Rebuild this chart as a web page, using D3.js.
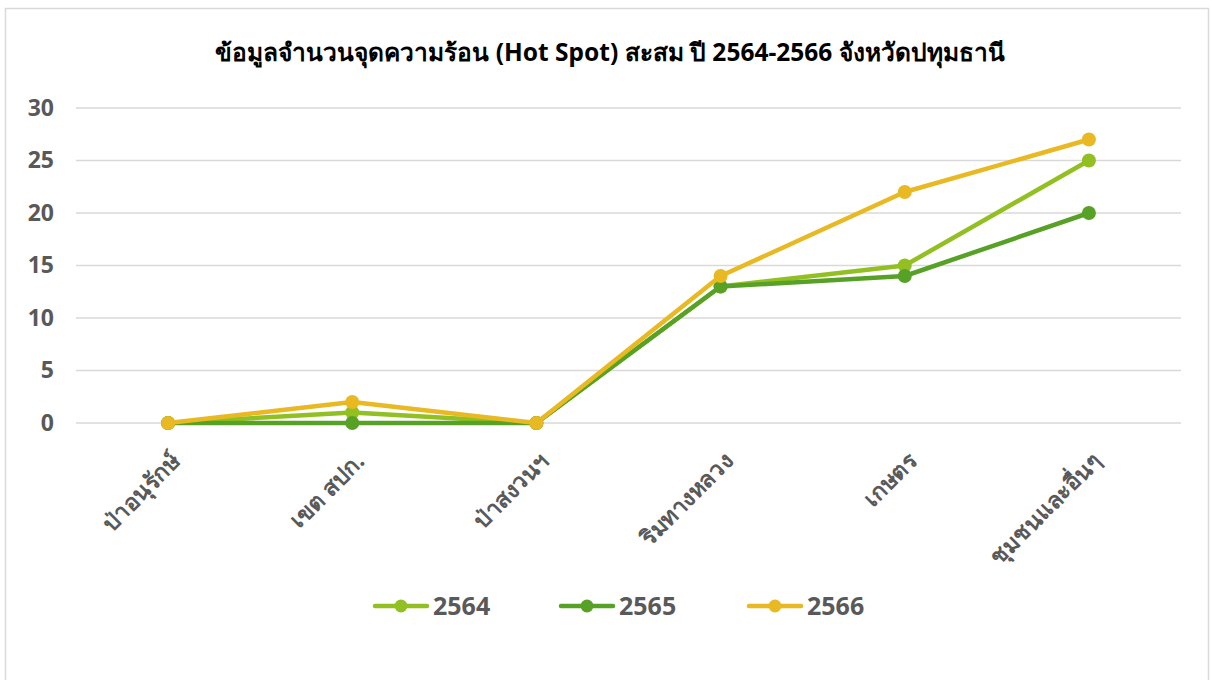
<!DOCTYPE html>
<html>
<head>
<meta charset="utf-8">
<script src="https://cdn.jsdelivr.net/npm/d3@7"></script>
<style>
  body { margin: 0; background: #fff; }
  text { font-family: "Tahoma", "Noto Sans", "DejaVu Sans", sans-serif; }
</style>
</head>
<body>
<div id="chart"></div>
<script>
// Chart data
var categories = ["ป่าอนุรักษ์", "เขต สปก.", "ป่าสงวนฯ", "ริมทางหลวง", "เกษตร", "ชุมชนและอื่นๆ"];
var years = ["2564", "2565", "2566"];
var values2564 = [0, 1, 0, 13, 15, 25];
var values2565 = [0, 0, 0, 13, 14, 20];
var values2566 = [0, 2, 0, 14, 22, 27];
var yTicks = [0, 5, 10, 15, 20, 25, 30];
var colors = ["#92c023", "#57a226", "#e8b923"];
var title = "ข้อมูลจำนวนจุดความร้อน (Hot Spot) สะสม ปี 2564-2566 จังหวัดปทุมธานี";

var series = [values2564, values2565, values2566];

var width = 1212, height = 680;
var margin = { top: 108, right: 31, bottom: 257, left: 76 };
var plotW = width - margin.left - margin.right,
    plotH = height - margin.top - margin.bottom;

var svg = d3.select("#chart").append("svg")
    .attr("width", width)
    .attr("height", height);

// outer frame
svg.append("rect")
    .attr("x", 5.5).attr("y", 8.5)
    .attr("width", 1203).attr("height", 690)
    .attr("fill", "none")
    .attr("stroke", "#d9d9d9")
    .attr("stroke-width", 1.5);

svg.append("text")
    .attr("x", 610).attr("y", 61)
    .attr("text-anchor", "middle")
    .attr("font-size", 24.5)
    .attr("font-weight", "bold")
    .attr("fill", "#000")
    .text(title);

var xScale = d3.scaleBand()
    .domain(categories)
    .range([0, plotW]);

var yScale = d3.scaleLinear()
    .domain([0, 30])
    .range([plotH, 0]);

var g = svg.append("g")
    .attr("transform", "translate(" + margin.left + "," + margin.top + ")");

// gridlines
g.append("g")
    .selectAll("line")
    .data(yTicks)
    .enter().append("line")
    .attr("x1", 0).attr("x2", plotW)
    .attr("y1", function(d) { return yScale(d); })
    .attr("y2", function(d) { return yScale(d); })
    .attr("stroke", "#d9d9d9")
    .attr("stroke-width", 1.5);

// y axis
var yAxis = d3.axisLeft(yScale).tickValues(yTicks).tickSize(0).tickPadding(22);
var yAx = g.append("g").call(yAxis);
yAx.select(".domain").remove();
yAx.selectAll("text")
    .attr("font-size", 23)
    .attr("font-weight", "bold")
    .attr("fill", "#595959");

// x axis
var xAxis = d3.axisBottom(xScale).tickSize(0).tickPadding(0);
var xAx = g.append("g")
    .attr("transform", "translate(0," + plotH + ")")
    .call(xAxis);
xAx.select(".domain").remove();
xAx.selectAll("text")
    .attr("font-size", 23)
    .attr("font-weight", "bold")
    .attr("fill", "#595959")
    .attr("text-anchor", "end")
    .attr("transform", "translate(8,34) rotate(-45)")
    .attr("dy", "0.35em")
    .attr("y", 0);

var cx = function(d, i) { return xScale(categories[i]) + xScale.bandwidth() / 2; };
var line = d3.line()
    .x(cx)
    .y(function(d) { return yScale(d); });

series.forEach(function(vals, s) {
    var sg = g.append("g");
    sg.append("path")
        .datum(vals)
        .attr("d", line)
        .attr("fill", "none")
        .attr("stroke", colors[s])
        .attr("stroke-width", 4.5)
        .attr("stroke-linejoin", "round")
        .attr("stroke-linecap", "round");
    sg.selectAll("circle")
        .data(vals)
        .enter().append("circle")
        .attr("cx", cx)
        .attr("cy", function(d) { return yScale(d); })
        .attr("r", 7)
        .attr("fill", colors[s]);
});

// legend
var legendX = [375, 561, 749];
var legend = svg.append("g").attr("transform", "translate(0,606)");
years.forEach(function(y, i) {
    var lg = legend.append("g").attr("transform", "translate(" + legendX[i] + ",0)");
    lg.append("line")
        .attr("x1", 0).attr("x2", 52)
        .attr("stroke", colors[i])
        .attr("stroke-width", 4.5)
        .attr("stroke-linecap", "round");
    lg.append("circle")
        .attr("cx", 26).attr("r", 6.5)
        .attr("fill", colors[i]);
    lg.append("text")
        .attr("x", 58).attr("y", 0)
        .attr("dy", "0.36em")
        .attr("font-size", 25)
        .attr("font-weight", "bold")
        .attr("fill", "#595959")
        .text(y);
});
</script>
</body>
</html>
